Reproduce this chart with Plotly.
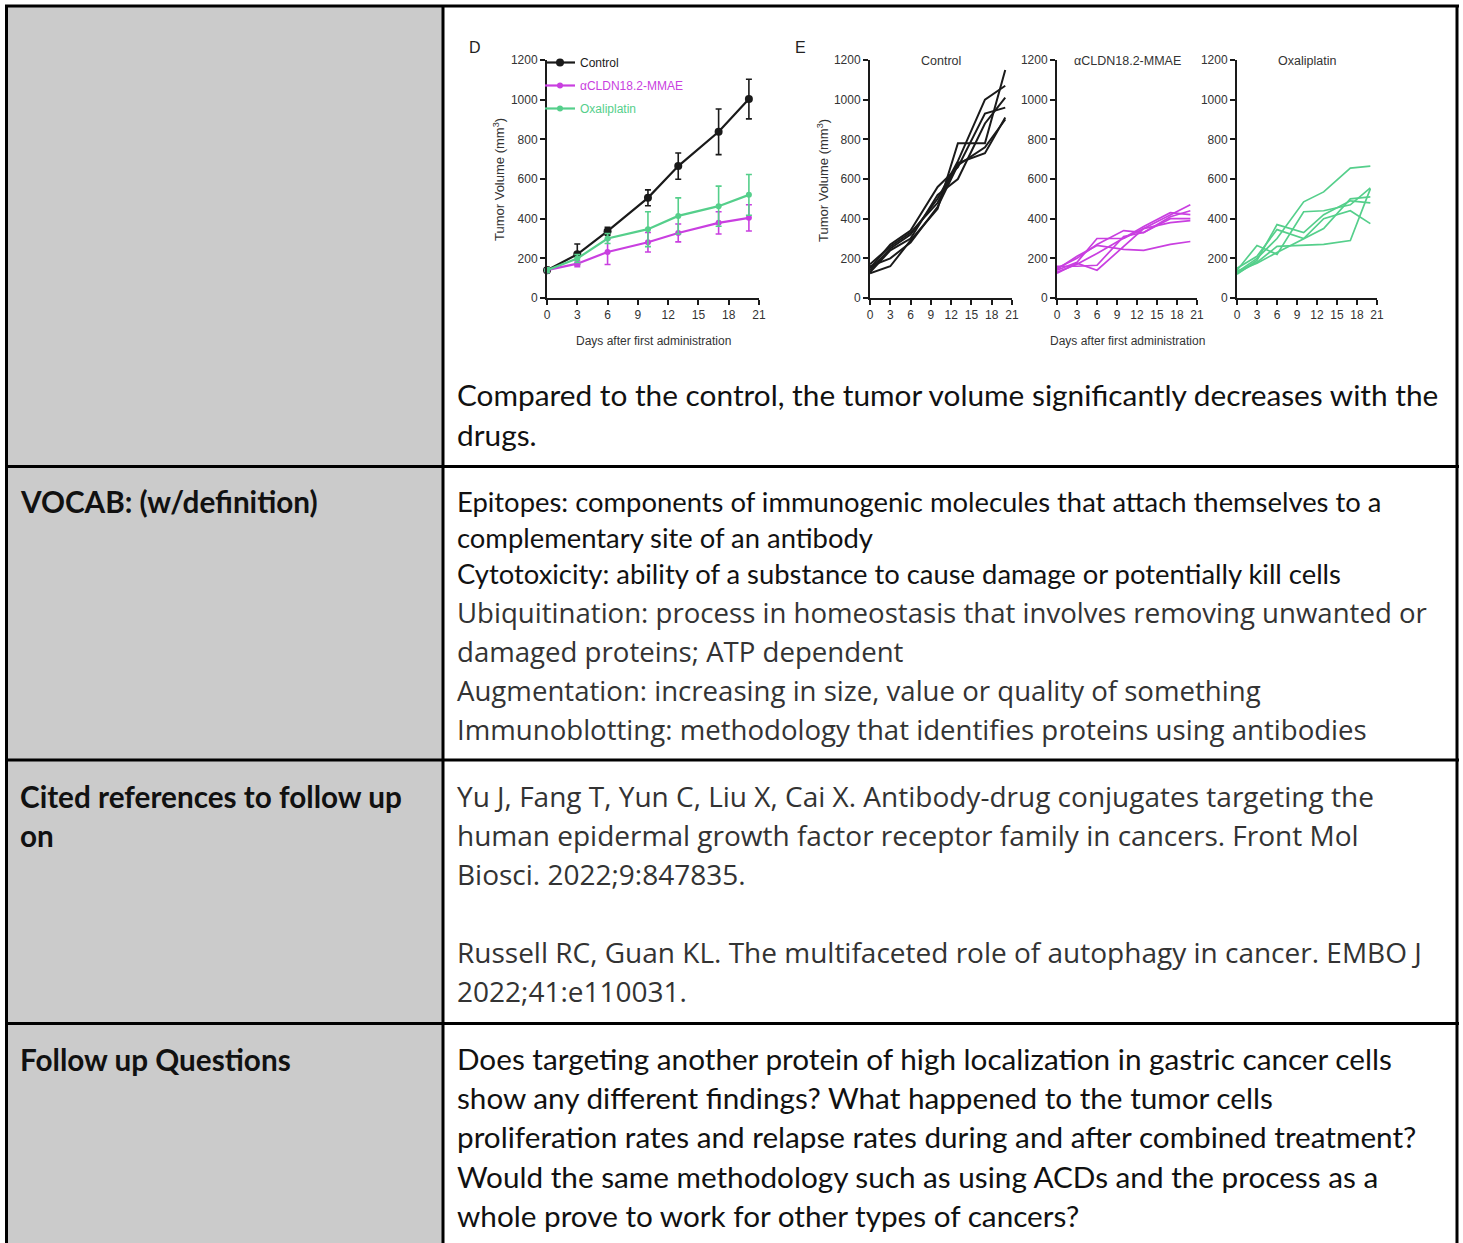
import plotly.graph_objects as go

# ---------------- data ----------------
days = [0, 3, 6, 10, 13, 17, 20]

control_mean = [140, 220, 337, 505, 665, 838, 1003]
control_err = [15, 52, 20, 40, 66, 115, 100]
mmae_mean = [140, 173, 232, 281, 328, 379, 404]
mmae_err = [12, 15, 63, 49, 45, 56, 66]
oxali_mean = [140, 199, 300, 347, 414, 463, 520]
oxali_err = [12, 20, 25, 88, 91, 101, 103]

control_mice = [
    [125, 160, 290, 450, 780, 780, 1150],
    [140, 250, 320, 500, 690, 1000, 1070],
    [150, 270, 340, 560, 660, 930, 960],
    [130, 240, 300, 520, 600, 880, 1010],
    [170, 260, 330, 480, 680, 730, 910],
    [160, 200, 280, 460, 670, 760, 900],
]
mmae_mice = [
    [140, 180, 300, 300, 350, 420, 470],
    [150, 200, 270, 340, 330, 410, 440],
    [130, 170, 225, 300, 360, 430, 420],
    [160, 160, 165, 310, 330, 400, 400],
    [125, 175, 140, 260, 350, 380, 390],
    [145, 210, 265, 245, 240, 270, 285],
]
oxali_mice = [
    [130, 200, 300, 485, 535, 655, 665],
    [140, 265, 220, 435, 440, 470, 555],
    [120, 190, 370, 330, 420, 490, 480],
    [150, 210, 345, 300, 400, 440, 375],
    [125, 180, 260, 265, 270, 290, 550],
    [135, 175, 230, 300, 350, 500, 510],
]

x_ticks = [0, 3, 6, 9, 12, 15, 18, 21]
y_ticks = [0, 200, 400, 600, 800, 1000, 1200]

group_names = ["Control", "αCLDN18.2-MMAE", "Oxaliplatin"]
group_colors = ["#1a1a1a", "#c93fe0", "#55cf8b"]

result_lines = [
    "Compared to the control, the tumor volume significantly decreases with the",
    "drugs.",
]
vocab_calibri = [
    "Epitopes: components of immunogenic molecules that attach themselves to a",
    "complementary site of an antibody",
    "Cytotoxicity: ability of a substance to cause damage or potentially kill cells",
]
vocab_segoe = [
    "Ubiquitination: process in homeostasis that involves removing unwanted or",
    "damaged proteins; ATP dependent",
    "Augmentation: increasing in size, value or quality of something",
    "Immunoblotting: methodology that identifies proteins using antibodies",
]
reference_lines = [
    "Yu J, Fang T, Yun C, Liu X, Cai X. Antibody-drug conjugates targeting the",
    "human epidermal growth factor receptor family in cancers. Front Mol",
    "Biosci. 2022;9:847835.",
    "",
    "Russell RC, Guan KL. The multifaceted role of autophagy in cancer. EMBO J",
    "2022;41:e110031.",
]
question_lines = [
    "Does targeting another protein of high localization in gastric cancer cells",
    "show any different findings? What happened to the tumor cells",
    "proliferation rates and relapse rates during and after combined treatment?",
    "Would the same methodology such as using ACDs and the process as a",
    "whole prove to work for other types of cancers?",
]
row_labels = [
    (["VOCAB: (w/definition)"], 502),
    (["Cited references to follow up", "on"], 796),
    (["Follow up Questions"], 1059),
]

# ---------------- helpers ----------------
W, H = 1463, 1243


def px(x):
    return x / W


def py(y):
    return 1 - y / H


CHART_FONT = "Liberation Sans, Arial, sans-serif"
CALIBRI_LIKE = "Lato, sans-serif"
SEGOE_LIKE = "Open Sans, Noto Sans, sans-serif"

fig = go.Figure()

# Panel D: group means with error bars
for name, color, mean, err, msize in zip(
    group_names, group_colors,
    [control_mean, mmae_mean, oxali_mean],
    [control_err, mmae_err, oxali_err],
    [8, 6, 6],
):
    fig.add_trace(go.Scatter(
        x=days, y=mean, mode="lines+markers",
        name=f'<span style="color:{color}">{name}</span>',
        legendgroup=name,
        line=dict(color=color, width=2.2),
        marker=dict(color=color, size=msize, symbol="circle"),
        error_y=dict(type="data", array=err, color=color, thickness=1.6, width=3),
        cliponaxis=False,
        xaxis="x", yaxis="y",
    ))

# Panel E: individual animals per group
for i, (mice, color) in enumerate(zip([control_mice, mmae_mice, oxali_mice], group_colors)):
    ax = str(i + 2)
    for m in mice:
        fig.add_trace(go.Scatter(
            x=days, y=m, mode="lines",
            line=dict(color=color, width=2 if i == 0 else 1.7),
            showlegend=False, cliponaxis=False,
            xaxis="x" + ax, yaxis="y" + ax,
        ))

axis_common = dict(
    showline=True, linecolor="#1a1a1a", linewidth=2,
    ticks="outside", ticklen=5, tickwidth=2, tickcolor="#1a1a1a",
    showgrid=False, zeroline=False, fixedrange=True, automargin=False,
    tickfont=dict(family=CHART_FONT, size=12, color="#333333"),
)

x_domains = [(547, 759), (870, 1012), (1057, 1197), (1237, 1377)]
layout_axes = {}
for i, (a, b) in enumerate(x_domains):
    suffix = "" if i == 0 else str(i + 1)
    layout_axes["xaxis" + suffix] = dict(
        axis_common, domain=[px(a), px(b)], range=[0, 21],
        tickvals=x_ticks, anchor="y" + suffix,
    )
    layout_axes["yaxis" + suffix] = dict(
        axis_common, domain=[py(298), py(60)], range=[0, 1200],
        tickvals=y_ticks, anchor="x" + suffix,
    )

annotations = []


def label(text, x, y, size, family, color="#111111", xanchor="left", angle=0, bold=False):
    if bold:
        text = f"<b>{text}</b>"
    annotations.append(dict(
        text=text, x=px(x), y=py(y), xref="paper", yref="paper",
        xanchor=xanchor, yanchor="middle", showarrow=False, textangle=angle,
        font=dict(family=family, size=size, color=color),
    ))


# chart labels
label("D", 467, 47, 16, CHART_FONT, "#222222")
label("E", 793, 47, 16, CHART_FONT, "#222222")
label("Tumor Volume (mm<sup>3</sup>)", 499, 180, 13, CHART_FONT, "#333333", "center", -90)
label("Tumor Volume (mm<sup>3</sup>)", 823, 180, 13, CHART_FONT, "#333333", "center", -90)
label("Days after first administration", 653, 341, 12, CHART_FONT, "#333333", "center")
label("Days after first administration", 1127, 341, 12, CHART_FONT, "#333333", "center")
for name, (a, b) in zip(group_names, x_domains[1:]):
    label(name, (a + b) / 2, 61, 12.5, CHART_FONT, "#333333", "center")

# table text
for k, t in enumerate(result_lines):
    label(t, 455, 394 + 40 * k, 29.8, CALIBRI_LIKE)
for k, t in enumerate(vocab_calibri):
    label(t, 455, 502 + 35.5 * k, 27.4, CALIBRI_LIKE)
for k, t in enumerate(vocab_segoe):
    label(t, 455, 612 + 39 * k, 27.6, SEGOE_LIKE, "#333333")
for k, t in enumerate(reference_lines):
    if t:
        label(t, 455, 795.5 + 39 * k, 28.0, SEGOE_LIKE, "#333333")
for k, t in enumerate(question_lines):
    label(t, 455, 1058.5 + 39.2 * k, 29.7, CALIBRI_LIKE)
for lines, y0 in row_labels:
    for k, t in enumerate(lines):
        label(t, 18, y0 + 39 * k, 29.7, CALIBRI_LIKE, "#111111", bold=True)

# table grid
shapes = [dict(type="rect", xref="paper", yref="paper",
               x0=px(8), x1=px(442), y0=py(1243), y1=py(7),
               fillcolor="#cbcbcb", line=dict(width=0), layer="below")]


def hline(y, x0=5, x1=1459):
    shapes.append(dict(type="line", xref="paper", yref="paper",
                       x0=px(x0), x1=px(x1), y0=py(y), y1=py(y),
                       line=dict(color="black", width=3)))


def vline(x, y0=5, y1=1243):
    shapes.append(dict(type="line", xref="paper", yref="paper",
                       x0=px(x), x1=px(x), y0=py(y0), y1=py(y1),
                       line=dict(color="black", width=3)))


hline(6)
hline(466.5)
hline(760)
hline(1023.5)
vline(6.5)
vline(443)
vline(1457)

fig.update_layout(
    width=W, height=H, autosize=False,
    margin=dict(l=0, r=0, t=0, b=0, pad=0, autoexpand=False),
    paper_bgcolor="white", plot_bgcolor="rgba(0,0,0,0)",
    showlegend=True,
    legend=dict(
        x=px(540), y=py(48), xanchor="left", yanchor="top",
        bgcolor="rgba(0,0,0,0)", font=dict(family=CHART_FONT, size=12),
        tracegroupgap=4, itemwidth=30,
    ),
    annotations=annotations, shapes=shapes,
    **layout_axes,
)

fig.write_html("out.html")
